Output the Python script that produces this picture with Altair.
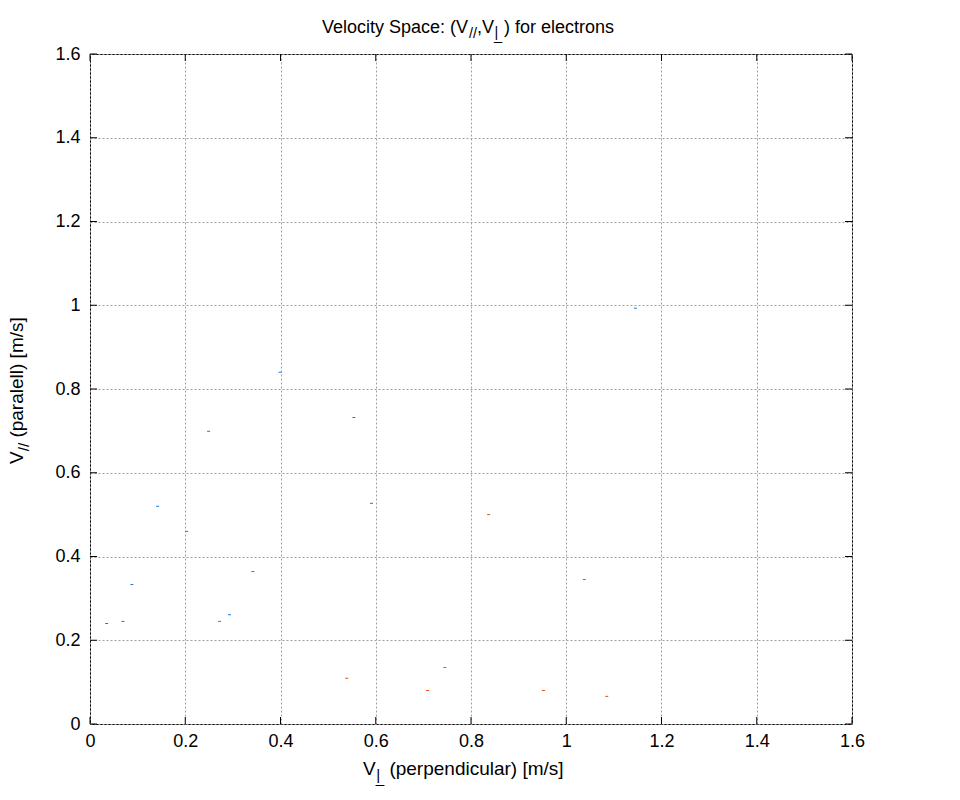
import altair as alt
import pandas as pd

# ---- data ----
vperp_blue = [1.145, 0.399, 0.249, 0.554, 0.142, 0.203, 0.591, 0.342, 0.088, 0.293, 0.069, 0.035]
vpar_blue = [0.993, 0.840, 0.699, 0.732, 0.520, 0.460, 0.527, 0.364, 0.333, 0.261, 0.245, 0.240]
vperp_red = [0.837, 0.272, 1.038, 0.745, 0.539, 0.709, 0.952, 1.085]
vpar_red = [0.500, 0.245, 0.345, 0.135, 0.109, 0.080, 0.080, 0.066]
tick_values = [0, 0.2, 0.4, 0.6, 0.8, 1.0, 1.2, 1.4, 1.6]
groups = ["set 1", "set 2"]

title_parts = ["Velocity Space: (V", "//", ",V", "|", "_", ") for electrons"]
xtitle_parts = ["V", "|", "_", " (perpendicular) [m/s]"]
ytitle_parts = ["V", "//", " (paralell) [m/s]"]

BLUE = "#1479e8"
RED = "#ec4a10"
FONT = "Liberation Sans"
W, H = 762, 670
TL = 7  # inward tick length

# Arial / Liberation Sans advance widths (per 1000 em)
CW = {" ": 278, "(": 333, ")": 333, ",": 278, "/": 278, ":": 278, "[": 278, "]": 278,
      "_": 556, "|": 260, "V": 667, "S": 667, "a": 556, "c": 500, "d": 556, "e": 556,
      "f": 278, "i": 222, "l": 222, "m": 833, "n": 556, "o": 556, "p": 556, "r": 333,
      "s": 500, "t": 278, "u": 556, "y": 500}


def tw(s, size):
    return sum(CW.get(ch, 556) for ch in s) * size / 1000.0


df = pd.DataFrame({
    "vperp": vperp_blue + vperp_red,
    "vpar": vpar_blue + vpar_red,
    "group": [groups[0]] * len(vperp_blue) + [groups[1]] * len(vperp_red),
})

xs = alt.Scale(domain=[0, 1.6], nice=False, zero=False)
ys = alt.Scale(domain=[0, 1.6], nice=False, zero=False)

common_axis = dict(values=tick_values, format="~g", title=None, grid=True,
                   gridColor="#a0a0a0", gridDash=[2, 2], gridWidth=1, ticks=False,
                   tickSize=0, domain=False, labelFontSize=18, labelFont=FONT,
                   labelColor="black", labelFlush=False)
xaxis = alt.Axis(labelPadding=8, **common_axis)
yaxis = alt.Axis(labelPadding=10, **common_axis)

X = alt.X("vperp:Q", scale=xs, axis=xaxis)
Y = alt.Y("vpar:Q", scale=ys, axis=yaxis)

points = alt.Chart(df).mark_tick(orient="horizontal", size=3, thickness=1, opacity=1).encode(
    x=X, y=Y,
    color=alt.Color("group:N", scale=alt.Scale(domain=groups, range=[BLUE, RED]), legend=None),
)

tdf_x = pd.DataFrame({"vperp": tick_values})
tdf_y = pd.DataFrame({"vpar": tick_values})
rule = dict(color="black", strokeWidth=1)
t_left = alt.Chart(tdf_y).mark_rule(**rule).encode(y=Y, x=alt.value(0), x2=alt.value(TL))
t_right = alt.Chart(tdf_y).mark_rule(**rule).encode(y=Y, x=alt.value(W - TL), x2=alt.value(W))
t_bottom = alt.Chart(tdf_x).mark_rule(**rule).encode(x=X, y=alt.value(H - TL), y2=alt.value(H))
t_top = alt.Chart(tdf_x).mark_rule(**rule).encode(x=X, y=alt.value(0), y2=alt.value(TL))


def txt(s, x, y, size, angle=0):
    # SVG collapses leading spaces, so move the anchor by their width instead
    lead = len(s) - len(s.lstrip(" "))
    shift = tw(" " * lead, size)
    if angle == 270:
        y = y - shift
    else:
        x = x + shift
    return alt.Chart(pd.DataFrame({"s": [s.strip()]})).mark_text(
        align="left", baseline="alphabetic", font=FONT, fontSize=size,
        angle=angle, color="black"
    ).encode(text="s:N", x=alt.value(x), y=alt.value(y))


texts = []

# chart title
F, S = 18, 14.4
sh = 0.3 * F
x0, y0 = 232, -21
a, b, c, d, e, f = title_parts
texts.append(txt(a, x0, y0, F)); x0 += tw(a, F)
texts.append(txt(b, x0, y0 + sh, S)); x0 += tw(b, S)
texts.append(txt(c, x0, y0, F)); x0 += tw(c, F)
texts.append(txt(d, x0 + 0.5, y0 + sh - 1, S))
texts.append(txt(e, x0, y0 + sh + 2, S)); x0 += tw(e, S) + 2
texts.append(txt(f, x0, y0, F))

# x axis title
F2, S2 = 19, 15.2
sh2 = 0.3 * F2
x0, y0 = 273, H + 51
a, b, c, d = xtitle_parts
texts.append(txt(a, x0, y0, F2)); x0 += tw(a, F2)
texts.append(txt(b, x0 + 0.5, y0 + sh2 - 1, S2))
texts.append(txt(c, x0, y0 + sh2 + 2, S2)); x0 += tw(c, S2)
texts.append(txt(d, x0, y0, F2))

# y axis title (rotated, reading upwards)
bx, py = -67, 410
a, b, c = ytitle_parts
texts.append(txt(a, bx, py, F2, 270)); py -= tw(a, F2)
texts.append(txt(b, bx + sh2, py, S2, 270)); py -= tw(b, S2)
texts.append(txt(c, bx, py, F2, 270))

chart = alt.layer(points, t_left, t_right, t_bottom, t_top, *texts).properties(
    width=W, height=H,
    autosize=alt.AutoSizeParams(type="none"),
    padding={"left": 82, "top": 46, "right": 100, "bottom": 68},
    background="white",
).configure_view(stroke="black", strokeWidth=1)

chart.save("out.html", embed_options={"renderer": "svg", "actions": False})
